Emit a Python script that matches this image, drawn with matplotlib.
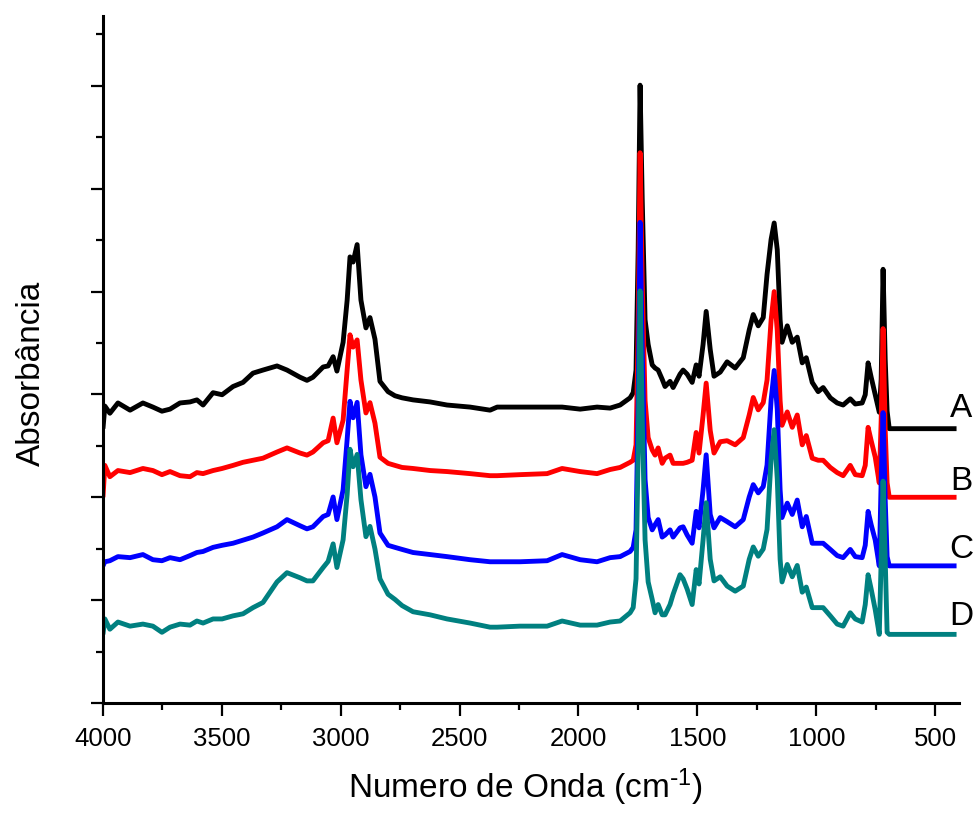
import matplotlib
matplotlib.use("Agg")
import matplotlib.pyplot as plt
from matplotlib.ticker import MultipleLocator, NullFormatter

plt.rcParams["font.family"] = ["Liberation Sans", "DejaVu Sans"]
plt.rcParams["mathtext.default"] = "regular"

# FTIR spectra: wavenumber (cm^-1) and absorbance (a.u.) of each sample
wavenumber = [
    4000, 3992, 3971, 3937, 3886, 3832, 3790, 3752, 3718, 3676,
    3634, 3605, 3579, 3537, 3499, 3453, 3411, 3369, 3327, 3268,
    3226, 3171, 3142, 3117, 3074, 3053, 3032, 3016, 2990, 2973,
    2961, 2948, 2931, 2915, 2894, 2877, 2856, 2835, 2801, 2772,
    2742, 2696, 2624, 2553, 2456, 2372, 2342, 2246, 2132, 2069,
    1993, 1922, 1867, 1825, 1783, 1770, 1758, 1749, 1741, 1732,
    1720, 1707, 1690, 1678, 1665, 1648, 1636, 1615, 1602, 1573,
    1560, 1543, 1522, 1505, 1493, 1476, 1463, 1446, 1430, 1404,
    1375, 1341, 1307, 1282, 1265, 1244, 1223, 1207, 1190, 1177,
    1164, 1152, 1144, 1122, 1101, 1080, 1059, 1042, 1017, 992,
    971, 941, 912, 887, 857, 836, 807, 794, 782, 769,
    752, 735, 727, 719, 710, 702, 693, 410,
]

absorb_A = [
    0.00, 0.22, 0.15, 0.25, 0.18, 0.25, 0.21, 0.17, 0.19, 0.25,
    0.26, 0.28, 0.23, 0.35, 0.33, 0.41, 0.45, 0.54, 0.57, 0.61,
    0.57, 0.50, 0.47, 0.50, 0.60, 0.61, 0.70, 0.56, 0.84, 1.25,
    1.67, 1.62, 1.79, 1.25, 0.98, 1.08, 0.87, 0.46, 0.36, 0.32,
    0.30, 0.28, 0.26, 0.23, 0.21, 0.18, 0.21, 0.21, 0.21, 0.21,
    0.19, 0.21, 0.20, 0.23, 0.30, 0.35, 0.57, 1.74, 3.34, 2.23,
    1.06, 0.82, 0.62, 0.59, 0.57, 0.48, 0.41, 0.46, 0.40, 0.53,
    0.57, 0.53, 0.45, 0.62, 0.51, 0.82, 1.14, 0.77, 0.51, 0.55,
    0.65, 0.59, 0.69, 0.96, 1.11, 1.00, 1.08, 1.50, 1.84, 2.00,
    1.74, 1.06, 0.84, 1.00, 0.84, 0.89, 0.64, 0.69, 0.45, 0.36,
    0.40, 0.30, 0.25, 0.23, 0.29, 0.24, 0.25, 0.33, 0.64, 0.50,
    0.33, 0.16, 0.48, 1.55, 0.67, 0.17, 0.00, 0.00,
]

absorb_B = [
    0.00, 0.31, 0.20, 0.26, 0.24, 0.28, 0.26, 0.22, 0.25, 0.21,
    0.20, 0.24, 0.23, 0.26, 0.28, 0.31, 0.34, 0.36, 0.38, 0.44,
    0.48, 0.43, 0.41, 0.44, 0.53, 0.55, 0.77, 0.53, 0.75, 1.24,
    1.58, 1.46, 1.53, 1.14, 0.82, 0.92, 0.72, 0.39, 0.33, 0.31,
    0.29, 0.28, 0.26, 0.25, 0.23, 0.21, 0.21, 0.22, 0.23, 0.28,
    0.25, 0.23, 0.27, 0.29, 0.34, 0.36, 0.51, 1.62, 3.35, 2.11,
    0.94, 0.58, 0.46, 0.41, 0.48, 0.33, 0.38, 0.41, 0.33, 0.33,
    0.33, 0.34, 0.36, 0.63, 0.43, 0.80, 1.11, 0.65, 0.43, 0.54,
    0.55, 0.51, 0.58, 0.80, 0.97, 0.85, 0.92, 1.14, 1.72, 2.00,
    1.62, 0.94, 0.70, 0.83, 0.68, 0.80, 0.51, 0.60, 0.38, 0.36,
    0.36, 0.29, 0.24, 0.21, 0.31, 0.22, 0.21, 0.31, 0.68, 0.55,
    0.39, 0.14, 0.75, 1.64, 0.65, 0.14, 0.00, 0.00,
]

absorb_C = [
    0.00, 0.04, 0.05, 0.09, 0.08, 0.11, 0.06, 0.05, 0.08, 0.06,
    0.10, 0.13, 0.14, 0.18, 0.20, 0.22, 0.25, 0.28, 0.32, 0.38,
    0.45, 0.39, 0.36, 0.38, 0.48, 0.50, 0.67, 0.45, 0.74, 1.23,
    1.60, 1.44, 1.59, 1.08, 0.77, 0.89, 0.67, 0.32, 0.20, 0.18,
    0.16, 0.13, 0.11, 0.09, 0.06, 0.04, 0.04, 0.04, 0.05, 0.11,
    0.06, 0.04, 0.08, 0.09, 0.14, 0.18, 0.35, 1.61, 3.34, 2.10,
    0.84, 0.47, 0.35, 0.40, 0.45, 0.28, 0.30, 0.35, 0.28, 0.37,
    0.38, 0.30, 0.22, 0.53, 0.37, 0.74, 1.08, 0.50, 0.37, 0.47,
    0.43, 0.38, 0.45, 0.67, 0.79, 0.71, 0.77, 0.98, 1.61, 1.90,
    1.52, 0.74, 0.47, 0.61, 0.50, 0.64, 0.38, 0.48, 0.22, 0.22,
    0.22, 0.16, 0.10, 0.08, 0.16, 0.09, 0.08, 0.20, 0.53, 0.40,
    0.25, 0.00, 0.84, 1.49, 0.64, 0.09, 0.00, 0.00,
]

absorb_D = [
    0.00, 0.15, 0.05, 0.12, 0.08, 0.10, 0.08, 0.02, 0.07, 0.10,
    0.09, 0.13, 0.11, 0.15, 0.15, 0.18, 0.20, 0.26, 0.31, 0.51,
    0.60, 0.55, 0.52, 0.52, 0.65, 0.71, 0.88, 0.65, 0.92, 1.36,
    1.80, 1.63, 1.75, 1.31, 0.95, 1.05, 0.83, 0.54, 0.39, 0.34,
    0.28, 0.22, 0.19, 0.15, 0.11, 0.07, 0.07, 0.08, 0.08, 0.13,
    0.09, 0.09, 0.12, 0.13, 0.21, 0.26, 0.54, 1.80, 3.34, 2.09,
    0.92, 0.51, 0.34, 0.21, 0.29, 0.19, 0.19, 0.29, 0.39, 0.58,
    0.54, 0.44, 0.29, 0.63, 0.49, 0.92, 1.28, 0.73, 0.52, 0.56,
    0.47, 0.42, 0.47, 0.73, 0.85, 0.76, 0.83, 1.02, 1.70, 1.99,
    1.51, 0.73, 0.51, 0.68, 0.56, 0.67, 0.41, 0.46, 0.26, 0.26,
    0.26, 0.18, 0.10, 0.08, 0.21, 0.15, 0.12, 0.29, 0.58, 0.44,
    0.24, 0.00, 0.73, 1.49, 0.73, 0.02, 0.00, 0.00,
]

sample_names = ["A", "B", "C", "D"]
sample_colors = ["#000000", "#FF0000", "#0000FF", "#008080"]
vertical_offsets = [2.667, 2.0, 1.333, 0.667]
name_heights = [2.78, 2.07, 1.41, 0.76]
spectra = [absorb_A, absorb_B, absorb_C, absorb_D]

fig = plt.figure(figsize=(9.76, 8.14), dpi=100)
ax = fig.add_axes([0.1055, 0.1364, 0.877, 0.8440])

for values, offset, color in zip(spectra, vertical_offsets, sample_colors):
    ax.plot(wavenumber, [v + offset for v in values], color=color, lw=3.5,
            solid_joinstyle="round", solid_capstyle="butt")

for name, h in zip(sample_names, name_heights):
    ax.text(390, h, name, fontsize=24, ha="center", va="baseline",
            clip_on=False)

ax.set_xlim(4000, 400)
ax.set_ylim(0, 6.68)

for side in ("top", "right"):
    ax.spines[side].set_visible(False)
for side in ("left", "bottom"):
    ax.spines[side].set_linewidth(2.2)

ax.xaxis.set_major_locator(MultipleLocator(500))
ax.xaxis.set_minor_locator(MultipleLocator(250))
ax.yaxis.set_major_locator(MultipleLocator(1))
ax.yaxis.set_minor_locator(MultipleLocator(0.5))
ax.yaxis.set_major_formatter(NullFormatter())

ax.tick_params(axis="both", which="major", direction="out", length=9,
               width=1.6, labelsize=18.5, pad=8)
ax.tick_params(axis="both", which="minor", direction="out", length=5,
               width=1.6)

ax.set_xlabel("Numero de Onda (cm$^{\\text{-}1}$)", fontsize=24)
ax.set_ylabel("Absorbância", fontsize=24)
ax.xaxis.set_label_coords(0.494, -0.092)
ax.yaxis.set_label_coords(-0.066, 0.48)

fig.savefig("out.png", dpi=100)
